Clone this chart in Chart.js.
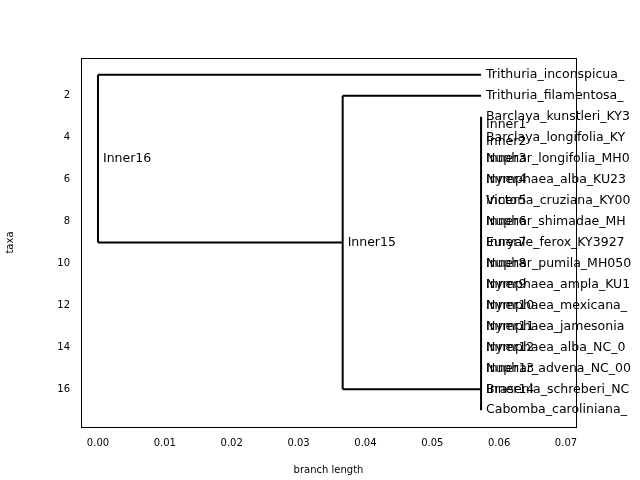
<!DOCTYPE html>
<html><head><meta charset="utf-8">
<script src="https://cdn.jsdelivr.net/npm/chart.js@4"></script>
<style>body{margin:0;background:#fff}#w{width:640px;height:480px}</style>
</head><body><div id="w"><canvas id="c"></canvas></div>
<script>
const tipNames = ["Trithuria_inconspicua_","Trithuria_filamentosa_","Barclaya_kunstleri_KY3","Barclaya_longifolia_KY","Nuphar_longifolia_MH0","Nymphaea_alba_KU23","Victoria_cruziana_KY00","Nuphar_shimadae_MH","Euryale_ferox_KY3927","Nuphar_pumila_MH050","Nymphaea_ampla_KU1","Nymphaea_mexicana_","Nymphaea_jamesonia","Nymphaea_alba_NC_0","Nuphar_advena_NC_00","Brasenia_schreberi_NC","Cabomba_caroliniana_"];
const tipY = [1,2,3,4,5,6,7,8,9,10,11,12,13,14,15,16,17];
const tipX = [0.0573,0.0573,0.0573,0.0573,0.0573,0.0573,0.0573,0.0573,0.0573,0.0573,0.0573,0.0573,0.0573,0.0573,0.0573,0.0573,0.0573];
const innerNames = ["Inner1","Inner2","Inner3","Inner4","Inner5","Inner6","Inner7","Inner8","Inner9","Inner10","Inner11","Inner12","Inner13","Inner14","Inner15","Inner16"];
const innerX = [0.0573,0.0573,0.0573,0.0573,0.0573,0.0573,0.0573,0.0573,0.0573,0.0573,0.0573,0.0573,0.0573,0.0573,0.0366,0];
const innerY = [3.4,4.2,5,6,7,8,9,10,11,12,13,14,15,16,9,5];
// tree branch segments: [x1,y1,x2,y2]
const branches = [
 [0,1,0,9],[0,1,0.0573,1],[0,9,0.0366,9],
 [0.0366,2,0.0366,16],[0.0366,2,0.0573,2],[0.0366,16,0.0573,16],
 [0.0573,3,0.0573,17]
];
const xTicks = [0,0.01,0.02,0.03,0.04,0.05,0.06,0.07];
const yTicks = [2,4,6,8,10,12,14,16];

const pts = [];
branches.forEach(b=>{pts.push({x:b[0],y:b[1]},{x:b[2],y:b[3]},{x:NaN,y:NaN});});
const F = 'DejaVu Sans';
const labels = {
 id:'labels',
 afterDatasetsDraw(ch){
  const c=ch.ctx,xs=ch.scales.x,ys=ch.scales.y;
  c.save();c.fillStyle='#000';c.font='12.5px "'+F+'"';c.textBaseline='middle';c.textAlign='left';
  tipNames.forEach((n,i)=>c.fillText(' '+n,xs.getPixelForValue(tipX[i])+1,ys.getPixelForValue(tipY[i])));
  innerNames.forEach((n,i)=>c.fillText(' '+n,xs.getPixelForValue(innerX[i])+1,ys.getPixelForValue(innerY[i])));
  const a=ch.chartArea;c.strokeStyle='#000';c.lineWidth=1;c.strokeRect(a.left+0.5,a.top+0.5,a.right-a.left,a.bottom-a.top);
  c.restore();
 }
};
new Chart(document.getElementById('c'),{
 type:'scatter',
 data:{datasets:[{data:pts,showLine:true,spanGaps:false,borderColor:'#000',borderWidth:2,pointRadius:0}]},
 options:{
  responsive:true,maintainAspectRatio:false,animation:false,
  layout:{padding:{top:58,right:64,left:0,bottom:0}},
  plugins:{legend:{display:false},tooltip:{enabled:false}},
  scales:{
   x:{type:'linear',min:-0.00254,max:0.0715,grid:{display:false,drawTicks:true},border:{display:false},
      afterBuildTicks:s=>{s.ticks=xTicks.map(v=>({value:v}));},
      afterFit:s=>{s.height=53;},
      ticks:{color:'#000',font:{family:F,size:10},maxRotation:0,callback:v=>v.toFixed(2),padding:2},
      title:{display:true,text:'branch length',color:'#000',font:{family:F,size:10},padding:{top:2}}},
   y:{type:'linear',reverse:true,min:0.2,max:17.8,grid:{display:false},border:{display:false},
      afterBuildTicks:s=>{s.ticks=yTicks.map(v=>({value:v}));},
      afterFit:s=>{s.width=81;},
      ticks:{color:'#000',font:{family:F,size:10},padding:3},
      title:{display:true,text:'taxa',color:'#000',font:{family:F,size:10}}}
  }
 },
 plugins:[labels]
});
</script></body></html>
